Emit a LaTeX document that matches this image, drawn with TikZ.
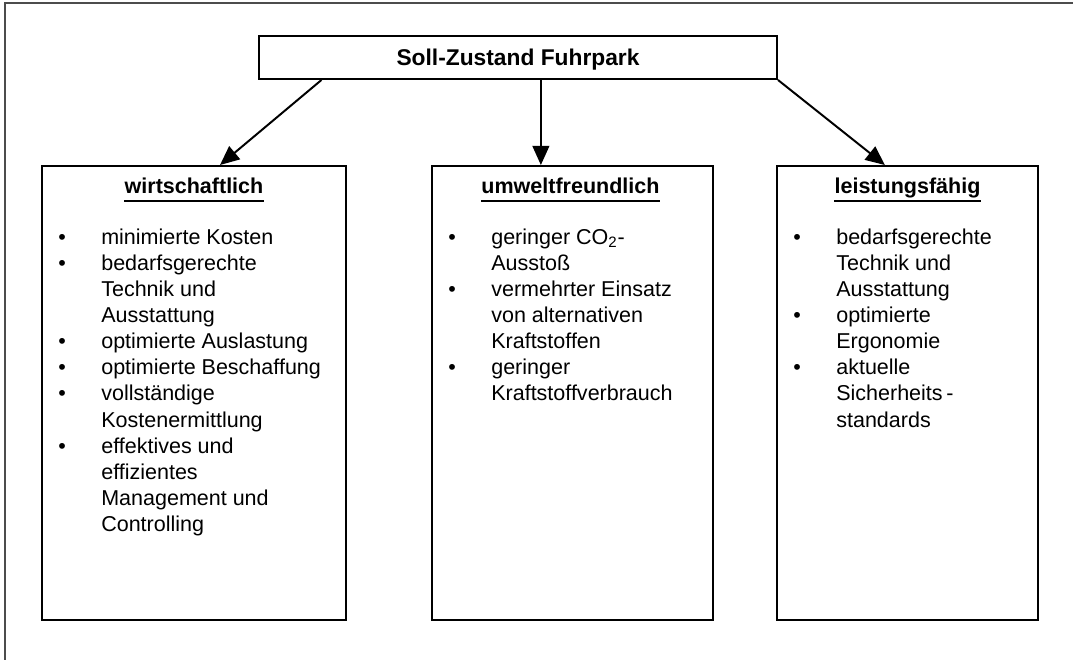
\documentclass[tikz,border=0pt]{standalone}
\usepackage{fontspec}
\setmainfont{Liberation Sans}
\usetikzlibrary{calc,positioning,arrows.meta}

\newcommand{\schrift}{\fontsize{15.3pt}{18.6pt}\selectfont}

\tikzset{
  kasten/.style={draw, line width=1.4pt, minimum width=#1, minimum height=11.35cm},
  kopf/.style={anchor=base, font=\schrift\bfseries},
  strich/.style={line width=1.5pt},
  liste/.style={anchor=base west, align=left},
  pfeil/.style={line width=1.4pt, -{Triangle[length=0.48cm,width=0.42cm]}},
}

\begin{document}
\begin{tikzpicture}[inner sep=0mm, font=\schrift]

\useasboundingbox (0,0) rectangle (26.825,16.475);
\draw[line width=0.8pt, black!70] (0.125,-0.5) -- (0.125,16.4) -- (27,16.4);

\node[draw, line width=1.4pt, minimum width=12.95cm, minimum height=1.075cm,
  font=\fontsize{16.2pt}{19pt}\selectfont\bfseries, text depth=0pt] (soll) at (12.95,15.0375) {Soll-Zustand Fuhrpark};

\node[kasten=7.6cm] (wirt) at (4.85,6.65) {};
\node[kasten=7.025cm] (umwelt) at (14.3125,6.65) {};
\node[kasten=6.525cm] (leist) at (22.6875,6.65) {};

\node[kopf] (wirtK) at ($(wirt.north)+(0,-0.7)$) {wirtschaftlich};
\node[kopf] (umweltK) at ($(umwelt.north)+(-0.05,-0.7)$) {umweltfreundlich};
\node[kopf] (leistK) at ($(leist.north)+(0,-0.7)$) {leistungsfähig};

\draw[strich] ([yshift=-0.2cm]wirtK.base west) -- ([yshift=-0.2cm]wirtK.base east);
\draw[strich] ([yshift=-0.2cm]umweltK.base west) -- ([yshift=-0.2cm]umweltK.base east);
\draw[strich] ([yshift=-0.2cm]leistK.base west) -- ([yshift=-0.2cm]leistK.base east);

\node[liste] (wirtL) at ($(wirt.north west)+(0.425,-1.975)$) {%
\begin{tabular}[t]{@{}p{1.075cm}@{}l@{}}
\textbullet & minimierte Kosten\\
\textbullet & bedarfsgerechte\\
 & Technik und\\
 & Ausstattung\\
\textbullet & optimierte Auslastung\\
\textbullet & optimierte Beschaffung\\
\textbullet & vollständige\\
 & Kostenermittlung\\
\textbullet & effektives und\\
 & effizientes\\
 & Management und\\
 & Controlling
\end{tabular}};

\node[liste] (umweltL) at ($(umwelt.north west)+(0.425,-1.975)$) {%
\begin{tabular}[t]{@{}p{1.075cm}@{}l@{}}
\textbullet & geringer CO\textsubscript{2}-\\
 & Ausstoß\\
\textbullet & vermehrter Einsatz\\
 & von alternativen\\
 & Kraftstoffen\\
\textbullet & geringer\\
 & Kraftstoffverbrauch
\end{tabular}};

\node[liste] (leistL) at ($(leist.north west)+(0.425,-1.975)$) {%
\begin{tabular}[t]{@{}p{1.075cm}@{}l@{}}
\textbullet & bedarfsgerechte\\
 & Technik und\\
 & Ausstattung\\
\textbullet & optimierte\\
 & Ergonomie\\
\textbullet & aktuelle\\
 & Sicherheits\,-\\
 & standards
\end{tabular}};

\coordinate (a1) at ($(soll.south west)!0.122!(soll.south east)$);
\coordinate (b1) at ($(wirt.north west)!0.585!(wirt.north east)$);
\coordinate (a2) at ($(soll.south west)!0.544!(soll.south east)$);
\coordinate (b2) at (a2 |- umwelt.north);
\coordinate (a3) at (soll.south east);
\coordinate (b3) at ($(leist.north west)!0.414!(leist.north east)$);

\draw[pfeil] (a1) to (b1);
\draw[pfeil] (a2) to (b2);
\draw[pfeil] (a3) to (b3);

\end{tikzpicture}
\end{document}
